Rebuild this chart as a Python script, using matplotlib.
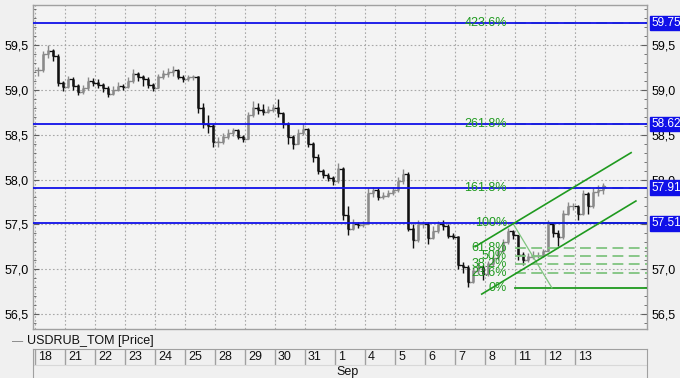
import matplotlib
matplotlib.use("Agg")
import matplotlib.pyplot as plt
from matplotlib.ticker import MultipleLocator, FuncFormatter
import matplotlib.transforms as mtransforms

plt.rcParams['font.family'] = ['Liberation Sans', 'DejaVu Sans']

# trading days shown on the date strip
days = ['18', '21', '22', '23', '24', '25', '28', '29', '30', '31',
        '1', '4', '5', '6', '7', '8', '11', '12', '13']

# six bars per day
closes = [59.22, 59.40, 59.44, 59.38, 59.08, 59.03,
          59.12, 59.05, 58.98, 59.02, 59.10, 59.08,
          59.06, 59.02, 58.96, 59.00, 59.04, 59.03,
          59.10, 59.18, 59.15, 59.12, 59.06, 59.02,
          59.15, 59.18, 59.20, 59.22, 59.14, 59.12,
          59.14, 59.15, 58.80, 58.62, 58.60, 58.42,
          58.42, 58.48, 58.52, 58.55, 58.48, 58.45,
          58.72, 58.80, 58.78, 58.76, 58.78, 58.80,
          58.74, 58.62, 58.48, 58.40, 58.52, 58.56,
          58.40, 58.25, 58.10, 58.05, 58.02, 57.98,
          58.12, 57.60, 57.45, 57.50, 57.49, 57.50,
          57.85, 57.88, 57.80, 57.82, 57.85, 57.88,
          57.98, 58.06, 57.45, 57.32, 57.50, 57.50,
          57.35, 57.42, 57.50, 57.48, 57.37, 57.36,
          57.04, 57.02, 56.86, 56.98, 57.02, 56.95,
          57.06, 57.12, 57.20, 57.30, 57.42, 57.38,
          57.16, 57.10, 57.14, 57.15, 57.15, 57.20,
          57.50, 57.40, 57.36, 57.62, 57.70, 57.70,
          57.62, 57.84, 57.70, 57.86, 57.88, 57.93]
highs = [59.26, 59.44, 59.50, 59.46, 59.40, 59.10,
         59.16, 59.14, 59.07, 59.06, 59.14, 59.13,
         59.12, 59.08, 59.04, 59.05, 59.09, 59.07,
         59.14, 59.24, 59.20, 59.17, 59.14, 59.08,
         59.18, 59.22, 59.25, 59.27, 59.24, 59.17,
         59.17, 59.17, 59.16, 58.85, 58.72, 58.62,
         58.48, 58.52, 58.56, 58.58, 58.56, 58.50,
         58.76, 58.88, 58.86, 58.84, 58.82, 58.84,
         58.90, 58.76, 58.64, 58.50, 58.56, 58.62,
         58.58, 58.42, 58.28, 58.12, 58.07, 58.04,
         58.18, 58.14, 57.70, 57.56, 57.53, 57.54,
         57.90, 57.92, 57.91, 57.86, 57.88, 57.92,
         58.03, 58.12, 58.08, 57.50, 57.55, 57.54,
         57.52, 57.48, 57.54, 57.55, 57.50, 57.40,
         57.37, 57.08, 57.04, 57.02, 57.08, 57.05,
         57.09, 57.16, 57.25, 57.34, 57.46, 57.44,
         57.30, 57.19, 57.18, 57.20, 57.19, 57.22,
         57.55, 57.52, 57.44, 57.66, 57.75, 57.74,
         57.72, 57.88, 57.86, 57.90, 57.94, 57.96]
lows = [59.16, 59.20, 59.36, 59.32, 59.05, 58.99,
        59.02, 59.00, 58.94, 58.96, 59.00, 59.04,
        59.02, 58.98, 58.92, 58.94, 58.99, 59.00,
        59.02, 59.08, 59.10, 59.05, 59.02, 58.99,
        59.03, 59.12, 59.15, 59.16, 59.12, 59.09,
        59.10, 59.11, 58.74, 58.58, 58.52, 58.36,
        58.36, 58.40, 58.45, 58.49, 58.45, 58.42,
        58.45, 58.70, 58.73, 58.72, 58.74, 58.75,
        58.70, 58.58, 58.40, 58.34, 58.40, 58.50,
        58.36, 58.20, 58.06, 58.02, 57.98, 57.94,
        57.96, 57.55, 57.38, 57.44, 57.46, 57.47,
        57.60, 57.80, 57.77, 57.78, 57.80, 57.83,
        57.86, 57.95, 57.42, 57.24, 57.30, 57.46,
        57.28, 57.33, 57.40, 57.44, 57.35, 57.33,
        57.00, 56.96, 56.80, 56.84, 56.95, 56.88,
        56.92, 57.03, 57.10, 57.18, 57.28, 57.33,
        57.10, 57.05, 57.08, 57.11, 57.12, 57.13,
        57.20, 57.36, 57.26, 57.34, 57.60, 57.66,
        57.55, 57.60, 57.62, 57.68, 57.82, 57.84]
bars_per_day = 6

# horizontal blue levels
levels = [59.75, 58.62, 57.91, 57.51]

# fibonacci levels (label, price)
fib_labels = ['423.6%', '261.8%', '161.8%', '100%', '61.8%', '50%', '38.2%', '23.6%', '0%']
fib_values = [59.75, 58.62, 57.91, 57.51, 57.23, 57.15, 57.06, 56.96, 56.79]

# channel lines (day index, price)
chan_upper_x = [14.67, 19.87]
chan_upper_y = [57.25, 58.30]
chan_lower_x = [14.89, 20.03]
chan_lower_y = [56.72, 57.76]
fib_trend_x = [15.93, 17.23]
fib_trend_y = [57.51, 56.79]

BG = '#f0f0f0'
GRID = '#a8a8a8'
BLUE = '#1010e8'
GREEN = '#1f9a1f'
LGREEN = '#80c480'

fig = plt.figure(figsize=(6.8, 3.78), dpi=100, facecolor=BG)
ax = fig.add_axes([33 / 680, 1 - 329 / 378, 614 / 680, 324 / 378])
ax.set_facecolor('#f3f3f3')
ax.set_xlim(-0.07, 20.4)
ax.set_ylim(56.33, 59.95)

ax.yaxis.set_major_locator(MultipleLocator(0.5))
ax.yaxis.set_minor_locator(MultipleLocator(0.1))
ax.yaxis.set_major_formatter(FuncFormatter(lambda v, p: f"{v:.1f}".replace('.', ',')))
ax.set_xticks(range(len(days)))
ax.tick_params(axis='x', length=0, labelbottom=False)
ax.tick_params(axis='y', which='both', left=True, right=True, labelleft=True, labelright=True,
               direction='in', labelsize=9, color='#606060', pad=3)
ax.tick_params(axis='y', which='major', length=4)
ax.tick_params(axis='y', which='minor', length=2)
ax.grid(True, which='major', linestyle=(0, (1.5, 2)), color=GRID, linewidth=0.8)
for s in ax.spines.values():
    s.set_color('#a0a0a0')
    s.set_linewidth(1.0)

# price bars
opens = [closes[0]] + closes[:-1]
for i in range(len(closes)):
    x = i // bars_per_day + (i % bars_per_day + 0.5) / bars_per_day
    col = '#111111' if closes[i] < opens[i] else '#8a8a8a'
    ax.vlines(x, lows[i], highs[i], color=col, linewidth=1.0, zorder=3)
    ax.vlines(x, min(opens[i], closes[i]), max(opens[i], closes[i]) + 0.005,
              color=col, linewidth=1.8, zorder=3)
    ax.plot([x - 0.08, x], [opens[i], opens[i]], color=col, linewidth=0.9, zorder=3)
    ax.plot([x, x + 0.08], [closes[i], closes[i]], color=col, linewidth=0.9, zorder=3)

# fibonacci lines and labels
for lab, v in zip(fib_labels, fib_values):
    if lab in ('0%', '100%'):
        ax.plot([16.0, 20.4], [v, v], color=GREEN, linewidth=1.3, zorder=4)
    else:
        ax.plot([16.0, 20.4], [v, v], color=LGREEN, linewidth=1.3, dashes=(6, 3), zorder=4)
    ax.text(15.73, v, lab, color=GREEN, fontsize=9, ha='right', va='center', zorder=5)

ax.plot(fib_trend_x, fib_trend_y, color=LGREEN, linewidth=0.9, zorder=4)

# blue horizontal levels
trans = mtransforms.blended_transform_factory(ax.transAxes, ax.transData)
for v in levels:
    ax.axhline(v, color=BLUE, linewidth=1.3, zorder=4)
    ax.text(1.0075, v, f"{v:.2f}", transform=trans, color='white', fontsize=8.5,
            ha='left', va='center', zorder=6, clip_on=False,
            bbox=dict(boxstyle='square,pad=0.1', facecolor=BLUE, edgecolor=BLUE))

# channel
ax.plot(chan_upper_x, chan_upper_y, color=GREEN, linewidth=1.2, zorder=4)
ax.plot(chan_lower_x, chan_lower_y, color=GREEN, linewidth=1.2, zorder=4)

# legend line under chart
fig.text(12 / 680, 1 - 341 / 378, '—', color='#707070', fontsize=8, va='center')
fig.text(27 / 680, 1 - 341 / 378, 'USDRUB_TOM [Price]', color='#111111', fontsize=9, va='center')

# date strip
ax2 = fig.add_axes([33 / 680, 0, 614 / 680, 29 / 378])
ax2.set_facecolor(BG)
ax2.set_xlim(-0.07, 20.4)
ax2.set_ylim(0, 1)
ax2.set_xticks([])
ax2.set_yticks([])
for s in ax2.spines.values():
    s.set_color('#a0a0a0')
ax2.spines['bottom'].set_visible(False)
ax2.vlines(range(len(days)), 0.45, 1, color='#a0a0a0', linewidth=1.0)
ax2.axhline(0.45, xmin=0, xmax=1, color='#d8d8d8', linewidth=0.8)
for i, d in enumerate(days):
    ax2.text(i + 0.1, 0.71, d, fontsize=9, ha='left', va='center', color='#111111')
ax2.text(10.03, 0.2, 'Sep', fontsize=9, ha='left', va='center', color='#111111')

fig.savefig('out.png', dpi=100, facecolor=BG)
